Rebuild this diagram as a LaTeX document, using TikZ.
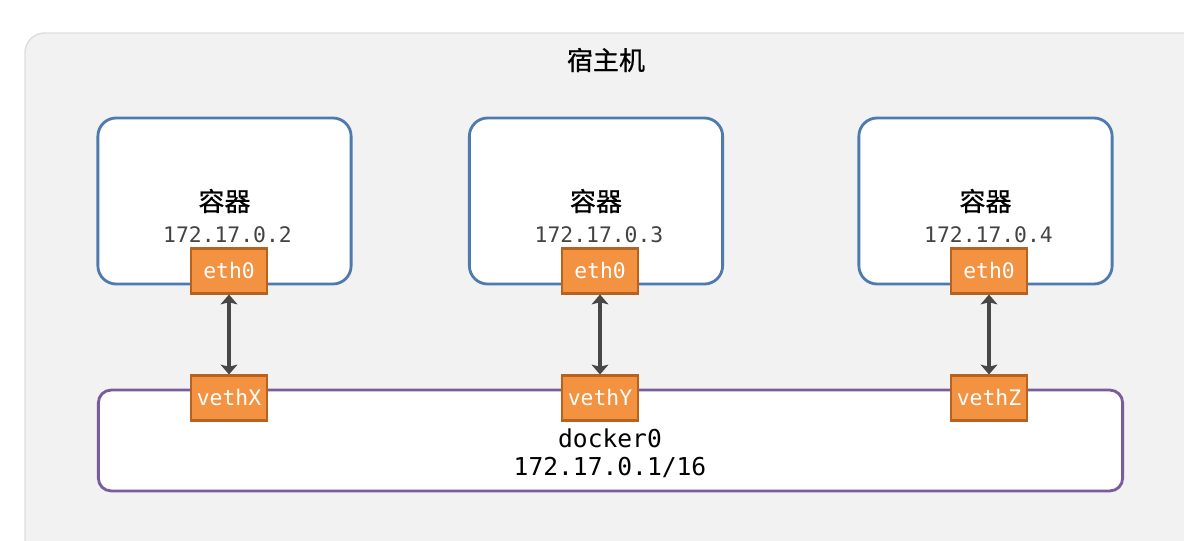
\documentclass[tikz,border=0pt]{standalone}
\usepackage{fontspec}
\setmonofont{DejaVu Sans Mono}
\newfontfamily\cjk[FakeBold=0.7]{Noto Sans CJK SC}
\usetikzlibrary{arrows.meta,positioning}

\definecolor{hostfill}{HTML}{F2F2F2}
\definecolor{hostline}{HTML}{DDDDDD}
\definecolor{ctrblue}{HTML}{4F7AAE}
\definecolor{portfill}{HTML}{F39241}
\definecolor{portline}{HTML}{B8621F}
\definecolor{bridgeline}{HTML}{7A5C9B}
\definecolor{linkgray}{HTML}{474747}
\definecolor{ipgray}{HTML}{444444}

\begin{document}
\begin{tikzpicture}[x=0.025cm, y=-0.025cm,
    host/.style={draw=hostline, fill=hostfill, line width=1pt, rounded corners=14pt},
    ctr/.style={draw=ctrblue, fill=white, line width=2pt, rounded corners=13pt, minimum width=6.33cm, minimum height=4.15cm},
    bridge/.style={draw=bridgeline, fill=white, line width=2pt, rounded corners=9pt, minimum width=25.6cm, minimum height=2.52cm},
    port/.style={draw=portline, fill=portfill, line width=1.6pt, minimum width=1.9cm, minimum height=1.12cm, inner sep=0pt, text=white, font=\ttfamily\fontsize{15.2}{18}\selectfont},
    cname/.style={font=\cjk\fontsize{18.5}{22}\selectfont},
    ip/.style={text=ipgray, font=\ttfamily\fontsize{15.2}{18}\selectfont},
    brtxt/.style={font=\ttfamily\fontsize{17.5}{20}\selectfont},
    link/.style={{Stealth[length=7pt,width=12pt,inset=1.5pt]}-{Stealth[length=7pt,width=12pt,inset=1.5pt]}, line width=2.4pt, draw=linkgray},
]
\useasboundingbox (0,0) rectangle (1184,540);
\clip (0,0) rectangle (1184,540);

% Host machine
\draw[host] (25,33) rectangle (1215,570);
\node[cname] (hosttitle) at (606,60) {宿主机};

% docker0 bridge
\node[bridge] (docker) at (610.5,440.5) {};
\node[brtxt] (brname) at (610,438) {docker0};
\node[brtxt] (brip) at (610,468) {172.17.0.1/16};

% Containers
\node[ctr] (ctrA) at (224.5,201) {};
\node[ctr] (ctrB) at (596,201) {};
\node[ctr] (ctrC) at (985.5,201) {};

\node[cname] (nameA) at (224.5,201) {容器};
\node[cname] (nameB) at (596,201) {容器};
\node[cname] (nameC) at (985.5,201) {容器};

\node[ip] (ipA) at (227.5,235) {172.17.0.2};
\node[ip] (ipB) at (599,235) {172.17.0.3};
\node[ip] (ipC) at (988.5,235) {172.17.0.4};

% Container interfaces
\node[port] (ethA) at (229,271) {eth0};
\node[port] (ethB) at (600,271) {eth0};
\node[port] (ethC) at (989,271) {eth0};

% Bridge interfaces
\node[port] (vethA) at (229,398) {vethX};
\node[port] (vethB) at (600,398) {vethY};
\node[port] (vethC) at (989,398) {vethZ};

% Links
\draw[link] (ethA) -- (vethA);
\draw[link] (ethB) -- (vethB);
\draw[link] (ethC) -- (vethC);

\end{tikzpicture}
\end{document}
